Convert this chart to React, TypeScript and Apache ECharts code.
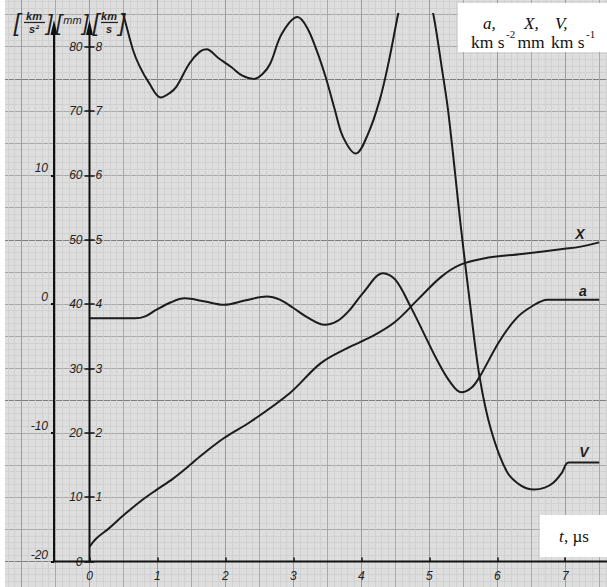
import { useEffect, useRef } from "react";
import * as echarts from "echarts";

// ---- data ----
// X : displacement (mm)
const dispT = [0, 0.1, 0.29, 0.5, 0.78, 0.98, 1.23, 1.5, 1.62, 1.98, 2.38, 2.95, 3.4, 3.8, 4.14, 4.49, 4.83, 5.17, 5.45, 5.8, 6.36, 6.99, 7.21, 7.5];
const disp = [2.3, 3.6, 5.2, 7.2, 9.6, 11.1, 12.9, 15.2, 16.3, 19.2, 21.8, 26.2, 30.8, 33.2, 34.9, 37.2, 40.7, 44.2, 46.1, 47.1, 47.8, 48.6, 48.9, 49.6];
// a : acceleration (km/s^2)
const accelT = [0, 0.67, 0.82, 0.98, 1.2, 1.4, 1.7, 1.98, 2.3, 2.61, 2.8, 3.0, 3.2, 3.46, 3.65, 3.82, 4.03, 4.32, 4.5, 4.73, 4.95, 5.11, 5.3, 5.47, 5.62, 5.74, 6.03, 6.28, 6.5, 6.74, 7.5];
const accel = [-1.1, -1.1, -0.95, -0.45, 0.15, 0.45, 0.2, -0.05, 0.3, 0.6, 0.35, -0.3, -1.0, -1.6, -1.3, -0.5, 0.9, 2.4, 1.9, -0.25, -2.6, -4.3, -6.0, -6.85, -6.5, -5.65, -2.9, -1.1, -0.2, 0.35, 0.35];
// V : velocity (km/s)
const velT = [0.35, 0.5, 0.64, 0.74, 0.88, 1.05, 1.18, 1.28, 1.47, 1.62, 1.72, 1.9, 2.09, 2.25, 2.42, 2.55, 2.66, 2.83, 3.06, 3.2, 3.34, 3.48, 3.61, 3.73, 3.92, 4.1, 4.27, 4.4, 4.54, 4.8, 5.06, 5.18, 5.28, 5.47, 5.6, 5.74, 5.91, 6.14, 6.35, 6.54, 6.7, 6.82, 6.95, 7.05, 7.5];
const vel = [9.0, 8.49, 7.95, 7.69, 7.43, 7.21, 7.28, 7.38, 7.74, 7.92, 7.96, 7.82, 7.68, 7.55, 7.5, 7.58, 7.74, 8.2, 8.46, 8.3, 7.95, 7.51, 7.02, 6.6, 6.34, 6.65, 7.17, 7.75, 8.5, 9.8, 8.5, 7.7, 6.98, 5.15, 4.0, 2.87, 2.04, 1.4, 1.18, 1.12, 1.15, 1.22, 1.38, 1.54, 1.54];

const W = 607;
const H = 587;
const T0X = 89.5; // pixel of t = 0
const PX_T = 67.96; // px per µs
const Y0 = 561.6; // pixel of 0 mm
const PX_MM = 6.436; // px per mm

const pairs = (xs: number[], ys: number[]) => xs.map((x, i) => [x, ys[i]]);

const INK = "#1c1c1c";
const HAND = { fontFamily: "Liberation Sans", fontStyle: "italic" as const, fontSize: 12, color: "#222" };

function txt(text: string, x: number, y: number, size: number, opts: any = {}) {
  const align = opts.align || "center";
  return {
    type: "text",
    z: 120,
    style: {
      text,
      x,
      y,
      fontSize: size,
      fontFamily: opts.family || "Liberation Sans",
      fontStyle: opts.italic === false ? "normal" : "italic",
      fontWeight: opts.bold ? "bold" : "normal",
      fill: opts.fill || "#1e1e1e",
      align,
      textAlign: align,
      verticalAlign: "middle",
      textVerticalAlign: "middle",
    },
  };
}

export default function App() {
  const ref = useRef<HTMLDivElement>(null);
  useEffect(() => {
    const chart = echarts.init(ref.current!, null, { renderer: "svg" });
    const right = W - (T0X + 8 * PX_T);
    const bottom = H - Y0;
    const hiddenX = (gi: number) => ({
      gridIndex: gi,
      type: "value",
      min: 0,
      max: 8,
      show: false,
      axisLine: { onZero: false },
    });
    const serif = "Liberation Serif";
    const gridBase = { outerBoundsMode: "none", containLabel: false };
    const option: any = {
      animation: false,
      backgroundColor: "#ffffff",
      grid: [
        {
          ...gridBase,
          left: T0X - 1.5 * PX_T,
          right,
          top: Y0 - 90 * PX_MM,
          bottom: H - (Y0 + 5 * PX_MM),
          show: true,
          backgroundColor: "#dedede",
          borderWidth: 0,
        },
        { ...gridBase, left: T0X, right, top: 14, bottom },
        { ...gridBase, left: T0X, right, top: Y0 - 60 * PX_MM, bottom },
        { ...gridBase, left: T0X, right, top: Y0 - 80 * PX_MM, bottom },
      ],
      xAxis: [
        {
          gridIndex: 0,
          type: "value",
          min: -1.5,
          max: 8,
          interval: 0.5,
          axisLine: { show: false, onZero: false },
          axisTick: { show: false },
          axisLabel: { show: false },
          splitLine: { show: true, lineStyle: { color: ["#a9a9a9", "#9c9c9c"], width: 1 } },
          minorTick: { show: false, splitNumber: 5 },
          minorSplitLine: { show: true, lineStyle: { color: "#cecece", width: 0.8 } },
        },
        hiddenX(1),
        hiddenX(2),
        {
          gridIndex: 3,
          type: "value",
          min: 0,
          max: 8,
          interval: 1,
          axisLine: { show: false, onZero: false },
          axisTick: { show: true, inside: true, length: 4, lineStyle: { color: "#111", width: 1.5 } },
          axisLabel: {
            ...HAND,
            margin: 8,
            formatter: (v: number) => (Number.isInteger(v) && v <= 7 ? String(v) : ""),
          },
          splitLine: { show: false },
        },
      ],
      yAxis: [
        {
          gridIndex: 0,
          type: "value",
          min: -5,
          max: 90,
          interval: 5,
          axisLine: { show: false, onZero: false },
          axisTick: { show: false },
          axisLabel: { show: false },
          splitLine: {
            show: true,
            lineStyle: { color: ["#a9a9a9", "#7e7e7e", "#a9a9a9", "#a9a9a9", "#a9a9a9"], width: 1.1 },
          },
          minorTick: { show: false, splitNumber: 5 },
          minorSplitLine: { show: true, lineStyle: { color: "#cecece", width: 0.8 } },
        },
        {
          gridIndex: 1,
          type: "value",
          min: 0,
          max: (Y0 - 14) / PX_MM / 10,
          show: false,
          axisLine: { onZero: false },
        },
        {
          gridIndex: 2,
          type: "value",
          position: "left",
          offset: T0X - 54,
          min: -20,
          max: 10,
          interval: 10,
          axisLine: { show: false, onZero: false },
          axisTick: { show: true, length: 3, lineStyle: { color: "#111", width: 2 } },
          axisLabel: { ...HAND, margin: 6, verticalAlign: "bottom", lineHeight: 14 },
          splitLine: { show: false },
        },
        {
          gridIndex: 3,
          type: "value",
          position: "left",
          min: 0,
          max: 80,
          interval: 10,
          axisLine: { show: false, onZero: false },
          axisTick: { show: true, length: 5, lineStyle: { color: "#111", width: 1.5 } },
          axisLabel: { ...HAND, margin: 7 },
          splitLine: { show: false },
        },
        {
          gridIndex: 3,
          type: "value",
          position: "left",
          min: 0,
          max: 8,
          interval: 1,
          axisLine: { show: false, onZero: false },
          axisTick: { show: true, inside: true, length: 5, lineStyle: { color: "#111", width: 1.5 } },
          axisLabel: {
            ...HAND,
            inside: true,
            margin: 6,
            formatter: (v: number) => (v >= 1 ? String(v) : ""),
          },
          splitLine: { show: false },
        },
      ],
      series: [
        {
          name: "V",
          type: "line",
          xAxisIndex: 1,
          yAxisIndex: 1,
          data: pairs(velT, vel),
          smooth: 0.35,
          showSymbol: false,
          clip: true,
          lineStyle: { color: INK, width: 2 },
          z: 5,
        },
        {
          name: "a",
          type: "line",
          xAxisIndex: 2,
          yAxisIndex: 2,
          data: pairs(accelT, accel),
          smooth: 0.35,
          showSymbol: false,
          lineStyle: { color: INK, width: 2 },
          z: 5,
        },
        {
          name: "X",
          type: "line",
          xAxisIndex: 3,
          yAxisIndex: 3,
          data: pairs(dispT, disp),
          smooth: 0.35,
          showSymbol: false,
          lineStyle: { color: INK, width: 2 },
          z: 5,
        },
      ],
      graphic: [
        // paper edge on the left
        { type: "rect", z: 90, shape: { x: 0, y: 0, width: 5, height: H }, style: { fill: "#ffffff" } },
        // axes
        { type: "line", z: 110, shape: { x1: 54, y1: Y0, x2: W, y2: Y0 }, style: { stroke: "#111", lineWidth: 2 } },
        { type: "line", z: 110, shape: { x1: 54, y1: Y0, x2: 54, y2: 30 }, style: { stroke: "#111", lineWidth: 2 } },
        { type: "line", z: 110, shape: { x1: T0X, y1: Y0, x2: T0X, y2: 30 }, style: { stroke: "#111", lineWidth: 2 } },
        { type: "polygon", z: 110, shape: { points: [[54, 20], [50.5, 35], [57.5, 35]] }, style: { fill: "#111" } },
        { type: "polygon", z: 110, shape: { points: [[T0X, 20], [T0X - 3.5, 35], [T0X + 3.5, 35]] }, style: { fill: "#111" } },
        // unit labels at the top of the axes
        txt("[", 17, 22, 24),
        txt("km", 34, 16, 11, { bold: true }),
        { type: "line", z: 110, shape: { x1: 24, y1: 22.5, x2: 45, y2: 22.5 }, style: { stroke: "#222", lineWidth: 1.2 } },
        txt("s²", 34, 29, 11, { bold: true }),
        txt("]", 49.5, 22, 22),
        txt("[", 59, 22, 22),
        txt("mm", 72.5, 20, 11),
        txt("]", 85.5, 22, 22),
        txt("[", 96, 22, 24),
        txt("km", 109, 16, 11, { bold: true }),
        { type: "line", z: 110, shape: { x1: 101, y1: 22.5, x2: 118, y2: 22.5 }, style: { stroke: "#222", lineWidth: 1.2 } },
        txt("s", 109, 29, 11, { bold: true }),
        txt("]", 122, 22, 24),
        // curve labels
        txt("X", 580, 234, 14, { bold: true }),
        txt("a", 583, 291, 14, { bold: true }),
        txt("V", 584, 452, 14, { bold: true }),
        // legend box (top right)
        { type: "rect", z: 115, shape: { x: 458, y: 3, width: 149, height: 49 }, style: { fill: "#ffffff" } },
        txt("a,", 483, 23, 17, { align: "left", family: serif, fill: "#111" }),
        txt("X,", 524, 23, 17, { align: "left", family: serif, fill: "#111" }),
        txt("V,", 555, 23, 17, { align: "left", family: serif, fill: "#111" }),
        txt("km s", 471, 42, 17.5, { align: "left", family: serif, italic: false, fill: "#111" }),
        txt("-2", 506, 34, 11, { align: "left", family: serif, italic: false, fill: "#111" }),
        txt("mm", 517.5, 42, 17.5, { align: "left", family: serif, italic: false, fill: "#111" }),
        txt("km s", 551, 42, 17.5, { align: "left", family: serif, italic: false, fill: "#111" }),
        txt("-1", 586, 34, 11, { align: "left", family: serif, italic: false, fill: "#111" }),
        // time box (bottom right)
        { type: "rect", z: 115, shape: { x: 540, y: 515, width: 67, height: 42 }, style: { fill: "#ffffff" } },
        txt("t", 559, 536, 17, { align: "left", family: serif, fill: "#111" }),
        txt(", µs", 564, 536, 17, { align: "left", family: serif, italic: false, fill: "#111" }),
      ],
    };
    chart.setOption(option);
    return () => chart.dispose();
  }, []);
  return (
    <div
      ref={ref}
      style={{ position: "fixed", left: 0, top: 0, width: W, height: H, background: "#ffffff" }}
    />
  );
}
